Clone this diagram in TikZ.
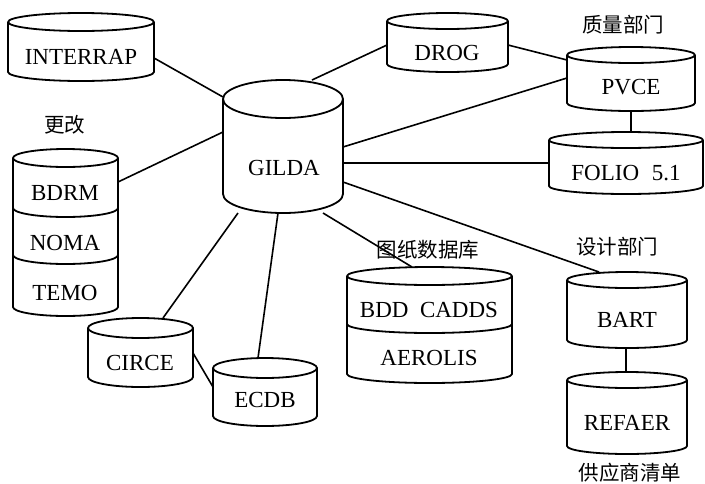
\documentclass[tikz,border=0pt]{standalone}
\usepackage{fontspec}
\setmainfont{Liberation Serif}
\newfontfamily\cjk{Noto Sans CJK SC}
\usetikzlibrary{calc}
\tikzset{
 cylline/.style={line width=1.8pt, line join=round},
 conn/.style={line width=1.6pt},
 hit/.style={rectangle, inner sep=0pt, outer sep=0pt},
 lbl/.style={font=\fontsize{23}{25}\selectfont, inner sep=0pt},
 cn/.style={font=\cjk\fontsize{20.5}{23}\selectfont, inner sep=0pt},
}
\newcommand\dbcyl[6]{%
 \draw[cylline] (#2,#4) -- (#2,#5) arc[start angle=180,end angle=0,x radius={(#3-#2)/2},y radius=#6] -- (#3,#4);
 \draw[cylline] ({(#2+#3)/2},#4) ellipse[x radius={(#3-#2)/2},y radius=#6];
 \node[hit,minimum width={(#3-#2)*1pt},minimum height={(#5-#4+2*#6)*1pt}] (#1) at ({(#2+#3)/2},{(#4+#5)/2}) {};
}
\newcommand\dbdiv[4]{%
 \draw[cylline] (#1,#3) arc[start angle=180,end angle=0,x radius={(#2-#1)/2},y radius=#4];
}
\begin{document}
\begin{tikzpicture}[x=1pt,y=-1pt]
\useasboundingbox (0,0) rectangle (705,483);
% cylinders
\dbcyl{interrap}{8}{154}{22}{72}{9}
\dbcyl{gilda}{223}{343}{99}{194}{19}
\dbcyl{modstack}{13}{118}{158}{307}{9}
\dbdiv{13}{118}{208}{9}
\dbdiv{13}{118}{255}{9}
\dbcyl{circe}{88}{193}{328}{377}{10}
\dbcyl{ecdb}{213}{317}{368}{416}{10}
\dbcyl{drog}{387}{508}{21}{64}{8}
\dbcyl{pvce}{567}{695}{55}{103}{8}
\dbcyl{folio}{549}{703}{140}{186}{8}
\dbcyl{bdd}{347}{512}{276}{374}{9}
\dbdiv{347}{512}{324}{9}
\dbcyl{bart}{567}{687}{280}{340}{8}
\dbcyl{refaer}{567}{687}{380}{446}{8}
% texts
\node[lbl] (tinterrap) at (81,57) {INTERRAP};
\node[lbl] (tgilda) at (284,168) {GILDA};
\node[lbl] (tbdrm) at (65,193) {BDRM};
\node[lbl] (tnoma) at (65,243) {NOMA};
\node[lbl] (ttemo) at (65,293) {TEMO};
\node[lbl] (tcirce) at (140,363) {CIRCE};
\node[lbl] (tecdb) at (265,400) {ECDB};
\node[lbl] (tdrog) at (447,53) {DROG};
\node[lbl] (tpvce) at (631,87) {PVCE};
\node[lbl] (tfolio) at (626,173) {FOLIO\hspace{0.55em}5.1};
\node[lbl] (tbdd) at (429,310) {BDD\hspace{0.5em}CADDS};
\node[lbl] (taero) at (429,358) {AEROLIS};
\node[lbl] (tbart) at (627,320) {BART};
\node[lbl] (trefaer) at (627,423) {REFAER};
% chinese labels
\node[cn] (lgenggai) at (65,125) {更改};
\node[cn] (lzhiliang) at (623,25) {质量部门};
\node[cn] (ltuzhi) at (428,250) {图纸数据库};
\node[cn] (lsheji) at (617,247) {设计部门};
\node[cn] (lgongying) at (630,473) {供应商清单};
% connectors
\draw[conn] (interrap.east |- 0,58) -- (gilda.west |- 0,97);
\draw[conn] (modstack.east |- 0,182) -- (gilda.west |- 0,132);
\draw[conn] (312,0 |- gilda.north) -- (drog.west |- 0,45);
\draw[conn] (drog.east |- 0,45) -- (pvce.west |- 0,60);
\draw[conn] (gilda.east |- 0,147) -- (pvce.west |- 0,78);
\draw[conn] (gilda.east |- 0,163) -- (folio.west |- 0,163);
\draw[conn] (gilda.east |- 0,182) -- (599,0 |- bart.north);
\draw[conn] (323,0 |- gilda.south) -- (412,0 |- bdd.north);
\draw[conn] (238,0 |- gilda.south) -- (163,0 |- circe.north);
\draw[conn] (278,0 |- gilda.south) -- (258,0 |- ecdb.north);
\draw[conn] (circe.east |- 0,353) -- (ecdb.west |- 0,387);
\draw[conn] (631,0 |- pvce.south) -- (631,0 |- folio.north);
\draw[conn] (626,0 |- bart.south) -- (626,0 |- refaer.north);
\end{tikzpicture}
\end{document}
